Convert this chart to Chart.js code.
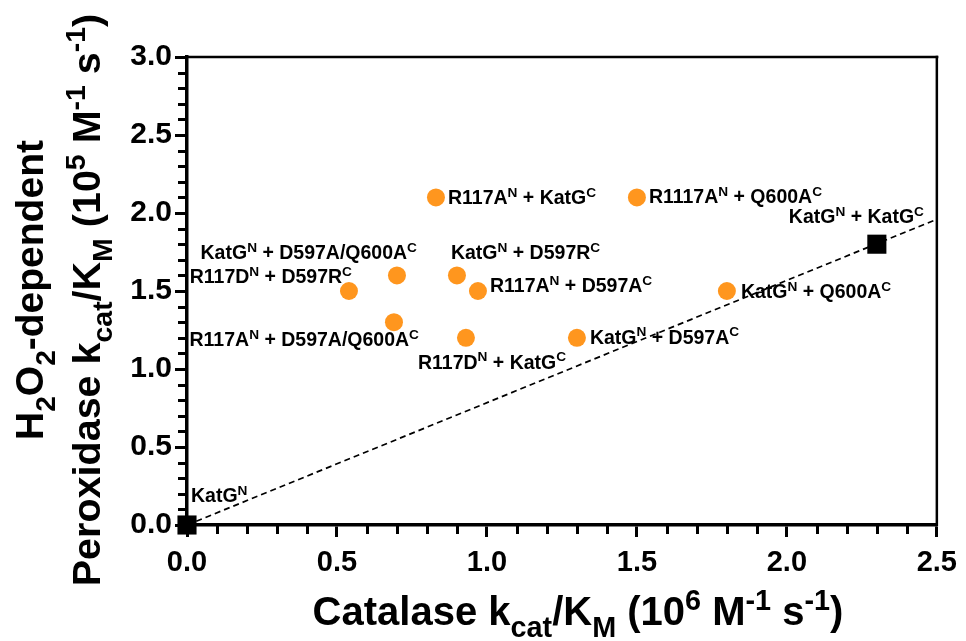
<!DOCTYPE html>
<html><head><meta charset="utf-8">
<script src="https://cdn.jsdelivr.net/npm/chart.js@4/dist/chart.umd.min.js"></script>
<style>html,body{margin:0;padding:0;background:#fff;}#wrap{width:966px;height:641px;}</style>
</head><body><div id="wrap"><canvas id="c" width="966" height="641"></canvas></div>
<script>
const FONT = '"Liberation Sans", Arial, Helvetica, sans-serif';

const xTickLabels = ['0.0', '0.5', '1.0', '1.5', '2.0', '2.5'];
const yTickLabels = ['0.0', '0.5', '1.0', '1.5', '2.0', '2.5', '3.0'];

const mutantLabels = [
  'R117A^{N} + KatG^{C}',
  'R1117A^{N} + Q600A^{C}',
  'KatG^{N} + D597A/Q600A^{C}',
  'KatG^{N} + D597R^{C}',
  'R117D^{N} + D597R^{C}',
  'R117A^{N} + D597A^{C}',
  'R117A^{N} + D597A/Q600A^{C}',
  'R117D^{N} + KatG^{C}',
  'KatG^{N} + D597A^{C}',
  'KatG^{N} + Q600A^{C}'
];
const mutantX = [0.83, 1.50, 0.70, 0.90, 0.54, 0.97, 0.69, 0.93, 1.30, 1.80];
const mutantY = [2.10, 2.10, 1.60, 1.60, 1.50, 1.50, 1.30, 1.20, 1.20, 1.50];

const parentLabels = ['KatG^{N}', 'KatG^{N} + KatG^{C}'];
const parentX = [0, 2.30];
const parentY = [0, 1.80];

const fitX = [0, 2.5];
const fitY = [0, 1.96];

const xTitle = 'Catalase k_{cat}/K_{M} (10^{6} M^{-1} s^{-1})';
const yTitle1 = 'H_{2}O_{2}-dependent';
const yTitle2 = 'Peroxidase k_{cat}/K_{M} (10^{5} M^{-1} s^{-1})';

// label placement (pixel offsets from the point)
const mutantPlace = [
  {dx: 12, dy: 0, a: 'left'},
  {dx: 12, dy: -1, a: 'left'},
  {dx: 20, dy: -23, a: 'right'},
  {dx: -6, dy: -23, a: 'left'},
  {dx: 3, dy: -15, a: 'right'},
  {dx: 12, dy: -6, a: 'left'},
  {dx: 25, dy: 17, a: 'right'},
  {dx: -48, dy: 24, a: 'left'},
  {dx: 13, dy: -1, a: 'left'},
  {dx: 14, dy: 0, a: 'left'}
];
const parentPlace = [
  {dx: 4, dy: -30, a: 'left'},
  {dx: -88, dy: -28, a: 'left'}
];

function tokens(s) {
  const out = []; const re = /([\^_])\{([^}]*)\}/g; let last = 0, m;
  while ((m = re.exec(s))) {
    if (m.index > last) out.push({t: s.slice(last, m.index), k: 'n'});
    out.push({t: m[2], k: m[1] === '^' ? 'sup' : 'sub'});
    last = re.lastIndex;
  }
  if (last < s.length) out.push({t: s.slice(last), k: 'n'});
  return out;
}
function drawRich(ctx, s, x, y, size, align, sc) {
  sc = sc || 0.7;
  const toks = tokens(s);
  let w = 0;
  toks.forEach(tk => {
    const sz = tk.k === 'n' ? size : size * sc;
    ctx.font = 'bold ' + sz + 'px ' + FONT;
    tk.w = ctx.measureText(tk.t).width; tk.sz = sz; w += tk.w;
  });
  let cx = align === 'right' ? x - w : (align === 'center' ? x - w / 2 : x);
  ctx.textAlign = 'left'; ctx.textBaseline = 'alphabetic';
  toks.forEach(tk => {
    ctx.font = 'bold ' + tk.sz + 'px ' + FONT;
    const dy = tk.k === 'sup' ? -size * 0.38 : (tk.k === 'sub' ? size * 0.3 : 0);
    ctx.fillText(tk.t, cx, y + dy);
    cx += tk.w;
  });
}

const deco = {
  id: 'deco',
  beforeDatasetsDraw(chart) {
    const ctx = chart.ctx, xs = chart.scales.x, ys = chart.scales.y;
    const size = 19.5;
    ctx.save(); ctx.fillStyle = '#000';
    const put = (lab, vx, vy, p) => {
      const px = xs.getPixelForValue(vx) + p.dx;
      const py = ys.getPixelForValue(vy) + p.dy;
      drawRich(ctx, lab, px, py + size * 0.36, size, p.a);
    };
    mutantLabels.forEach((l, i) => put(l, mutantX[i], mutantY[i], mutantPlace[i]));
    parentLabels.forEach((l, i) => put(l, parentX[i], parentY[i], parentPlace[i]));
    ctx.restore();
  },
  afterDraw(chart) {
    const ctx = chart.ctx, xs = chart.scales.x, ys = chart.scales.y, ca = chart.chartArea;
    ctx.save();
    ctx.setLineDash([]);
    ctx.fillStyle = '#000';
    // top & right frame
    ctx.fillRect(ca.left - 1, ca.top - 1.25, ca.right - ca.left + 2.5, 2.5);
    ctx.fillRect(ca.right - 1.25, ca.top - 1.25, 2.5, ca.bottom - ca.top + 2.5);
    // minor ticks
    for (let i = 0; i <= 25; i++) {
      if (i % 5 === 0) continue;
      const px = Math.round(xs.getPixelForValue(i / 10));
      ctx.fillRect(px - 1, Math.round(ca.bottom), 3, 9);
    }
    for (let i = 0; i <= 30; i++) {
      if (i % 5 === 0) continue;
      const py = Math.round(ys.getPixelForValue(i / 10));
      ctx.fillRect(Math.round(ca.left) - 9, py - 1, 9, 3);
    }
    // titles
    drawRich(ctx, xTitle, 578, 625, 40, 'center', 0.72);
    ctx.save(); ctx.translate(43, 290); ctx.rotate(-Math.PI / 2);
    drawRich(ctx, yTitle1, 0, 0, 39, 'center', 0.72);
    ctx.restore();
    ctx.save(); ctx.translate(100, 300); ctx.rotate(-Math.PI / 2);
    drawRich(ctx, yTitle2, 0, 0, 39.5, 'center', 0.72);
    ctx.restore();
    ctx.restore();
  }
};

const toXY = (xa, ya) => xa.map((v, i) => ({x: v, y: ya[i]}));

new Chart(document.getElementById('c'), {
  type: 'scatter',
  data: {
    datasets: [
      {
        label: 'parents', data: toXY(parentX, parentY), order: 1, clip: false,
        pointStyle: 'rect', pointRadius: 13.5, backgroundColor: '#000', borderColor: '#000', borderWidth: 0
      },
      {
        label: 'mutants', data: toXY(mutantX, mutantY), order: 2, clip: false,
        pointStyle: 'circle', pointRadius: 9, backgroundColor: '#FF961E', borderColor: '#FF961E', borderWidth: 0
      },
      {
        label: 'fit', data: toXY(fitX, fitY), order: 3, type: 'line', showLine: true,
        pointRadius: 0, borderColor: '#000', borderWidth: 1.7, borderDash: [6, 4], fill: false
      }
    ]
  },
  options: {
    responsive: false, animation: false, devicePixelRatio: 1,
    layout: {padding: {left: 0, top: 57, right: 26, bottom: 0}},
    plugins: {legend: {display: false}, tooltip: {enabled: false}},
    scales: {
      x: {
        type: 'linear', min: 0, max: 2.5,
        afterFit(s) { s.height = 116; },
        ticks: {stepSize: 0.5, padding: 9, color: '#000', maxRotation: 0,
          font: {family: FONT, size: 29, weight: 'bold'},
          callback: (v, i) => xTickLabels[i]},
        grid: {drawOnChartArea: false, drawTicks: true, tickLength: 12, tickWidth: 3, tickColor: '#000'},
        border: {display: true, color: '#000', width: 3.5}
      },
      y: {
        type: 'linear', min: 0, max: 3,
        afterFit(s) { s.width = 187; },
        ticks: {stepSize: 0.5, padding: 3, color: '#000',
          font: {family: FONT, size: 30, weight: 'bold'},
          callback: (v, i) => yTickLabels[i]},
        grid: {drawOnChartArea: false, drawTicks: true, tickLength: 12, tickWidth: 3, tickColor: '#000'},
        border: {display: true, color: '#000', width: 3.5}
      }
    }
  },
  plugins: [deco]
});
</script>
</body></html>
